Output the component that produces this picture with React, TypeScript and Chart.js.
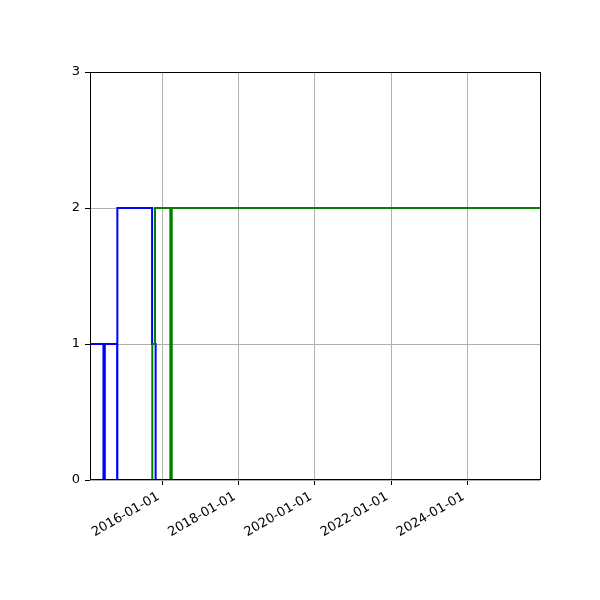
import React, { useEffect, useRef } from "react";
import { Chart, registerables } from "chart.js";

Chart.register(...registerables);

// step changes: value holds from each date until the next one
const blueDates = [
  "2014-02-06",
  "2014-06-15",
  "2014-06-28",
  "2014-10-24",
  "2014-10-26",
  "2015-09-24",
  "2015-10-28",
  "2025-11-27",
];
const blueValues = [1, 0, 1, 0, 2, 1, 0, 0];

const greenDates = [
  "2014-02-06",
  "2015-09-26",
  "2015-10-22",
  "2016-03-17",
  "2016-03-30",
  "2025-11-27",
];
const greenValues = [0, 1, 2, 0, 2, 2];

const xTickDates = ["2016-01-01", "2018-01-01", "2020-01-01", "2022-01-01", "2024-01-01"];
const yTicks = [0, 1, 2, 3];

const toMs = (s: string) => Date.parse(s + "T00:00:00Z");

const fmtDate = (v: number) => {
  const d = new Date(v);
  const mm = String(d.getUTCMonth() + 1).padStart(2, "0");
  const dd = String(d.getUTCDate()).padStart(2, "0");
  return `${d.getUTCFullYear()}-${mm}-${dd}`;
};

// draws the full box of spines round the plot area
const frame = {
  id: "frame",
  afterDraw(chart: any) {
    const { ctx, chartArea: a } = chart;
    ctx.save();
    ctx.strokeStyle = "#000";
    ctx.lineWidth = 1;
    ctx.strokeRect(a.left + 0.5, a.top + 0.5, a.right - a.left, a.bottom - a.top - 1);
    ctx.restore();
  },
};

const App: React.FC = () => {
  const canvasRef = useRef<HTMLCanvasElement>(null);

  useEffect(() => {
    if (!canvasRef.current) return;
    const ctx = canvasRef.current.getContext("2d")!;

    const blue = blueDates.map((d, i) => ({ x: toMs(d), y: blueValues[i] }));
    const green = greenDates.map((d, i) => ({ x: toMs(d), y: greenValues[i] }));

    const chart = new Chart(ctx, {
      type: "line",
      data: {
        datasets: [
          {
            data: green,
            borderColor: "#008000",
            borderWidth: 2,
            pointRadius: 0,
            stepped: true,
            order: 0,
          },
          {
            data: blue,
            borderColor: "#0000ff",
            borderWidth: 2,
            pointRadius: 0,
            stepped: true,
            order: 1,
          },
        ],
      },
      options: {
        responsive: false,
        animation: false,
        layout: { padding: { top: 72, right: 60, left: 0, bottom: 0 } },
        font: { family: "DejaVu Sans" },
        scales: {
          x: {
            type: "linear",
            min: toMs(blueDates[0]),
            max: toMs(blueDates[blueDates.length - 1]),
            afterBuildTicks: (scale: any) => {
              scale.ticks = xTickDates.map((d) => ({ value: toMs(d) }));
            },
            afterFit: (scale: any) => {
              scale.height = 120;
            },
            grid: {
              color: "#b0b0b0",
              lineWidth: 1,
              tickColor: "#000",
              tickLength: 5,
            },
            border: { display: false },
            ticks: {
              autoSkip: false,
              minRotation: 30,
              maxRotation: 30,
              padding: 4,
              labelOffset: -4,
              color: "#000",
              font: { family: "DejaVu Sans", size: 13 },
              callback: (v: any) => fmtDate(Number(v)),
            },
          },
          y: {
            min: 0,
            max: 3,
            afterBuildTicks: (scale: any) => {
              scale.ticks = yTicks.map((v) => ({ value: v }));
            },
            afterFit: (scale: any) => {
              scale.width = 90;
            },
            grid: {
              color: "#b0b0b0",
              lineWidth: 1,
              tickColor: "#000",
              tickLength: 5,
            },
            border: { display: false },
            ticks: {
              padding: 5,
              color: "#000",
              font: { family: "DejaVu Sans", size: 13 },
            },
          },
        },
        plugins: {
          legend: { display: false },
          tooltip: { enabled: false },
        },
      },
      plugins: [frame],
    });

    return () => {
      chart.destroy();
    };
  }, []);

  return (
    <div style={{ position: "fixed", left: 0, top: 0, width: 600, height: 600, background: "#fff" }}>
      <canvas ref={canvasRef} width={600} height={600} />
    </div>
  );
};

export default App;
